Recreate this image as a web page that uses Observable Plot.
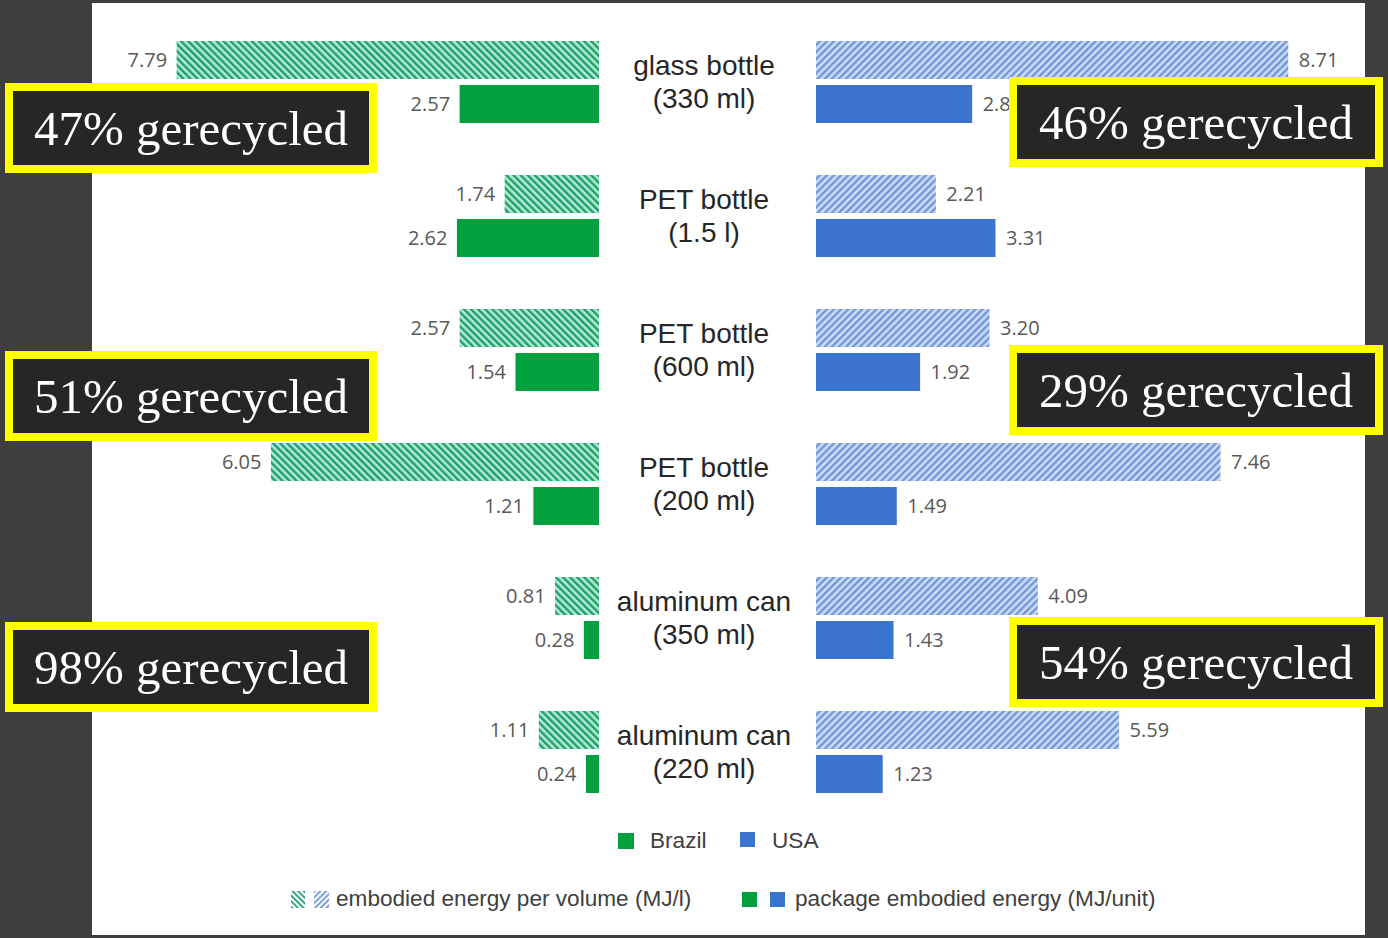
<!DOCTYPE html>
<html>
<head>
<meta charset="utf-8">
<script src="https://cdn.jsdelivr.net/npm/d3@7"></script>
<script src="https://cdn.jsdelivr.net/npm/@observablehq/plot@0.6"></script>
<style>
  html, body { margin: 0; padding: 0; }
  body { background: #3e3e3e; width: 1388px; height: 938px; overflow: hidden; position: relative; font-family: "Liberation Sans", Arial, sans-serif; }
  #panel { position: absolute; left: 92px; top: 3px; width: 1273px; height: 932px; background: #ffffff; }
  .plotwrap { position: absolute; top: 0; }
  .plotwrap svg { overflow: visible; }
  .box { position: absolute; box-sizing: border-box; border: 8px solid #ffff00; background: #262626; color: #ffffff;
         font-family: "Liberation Serif", "DejaVu Serif", serif; font-size: 49px; display: flex; align-items: center; justify-content: center; white-space: nowrap; }
  .leg { position: absolute; font-size: 22.6px; color: #404040; white-space: nowrap; line-height: 1; }
  .sw { position: absolute; }
</style>
</head>
<body>
<svg width="0" height="0" style="position:absolute">
  <defs>
    <pattern id="hatchGreen" patternUnits="userSpaceOnUse" width="5" height="5" patternTransform="rotate(-45)">
      <rect width="5" height="5" fill="#b3ebd2"></rect>
      <rect width="2.4" height="5" fill="#1d9f6c"></rect>
    </pattern>
    <pattern id="hatchBlue" patternUnits="userSpaceOnUse" width="5" height="5" patternTransform="rotate(45)">
      <rect width="5" height="5" fill="#cfdcf5"></rect>
      <rect width="2.4" height="5" fill="#6f96da"></rect>
    </pattern>
    <pattern id="hatchGreenIcon" patternUnits="userSpaceOnUse" width="4" height="4" patternTransform="rotate(-45)">
      <rect width="1.8" height="4" fill="#1d9f6c"></rect>
    </pattern>
    <pattern id="hatchBlueIcon" patternUnits="userSpaceOnUse" width="4" height="4" patternTransform="rotate(45)">
      <rect width="1.8" height="4" fill="#6f96da"></rect>
    </pattern>
  </defs>
</svg>
<div id="panel"></div>
<div id="left" class="plotwrap" style="left:111px"></div>
<div id="mid" class="plotwrap" style="left:599px"></div>
<div id="right" class="plotwrap" style="left:816px"></div>

<div class="sw" style="left:618px; top:833px; width:16px; height:16px; background:#00a03e"></div>
<div class="leg" style="left:650px; top:830px">Brazil</div>
<div class="sw" style="left:740px; top:832px; width:15px; height:15px; background:#3a74cc"></div>
<div class="leg" style="left:772px; top:830px">USA</div>

<svg class="sw" style="left:291px; top:891px" width="40" height="17">
  <rect x="0" y="0" width="14" height="17" fill="url(#hatchGreenIcon)"></rect>
  <rect x="23" y="0" width="15" height="17" fill="url(#hatchBlueIcon)"></rect>
</svg>
<div class="leg" style="left:336px; top:888px">embodied energy per volume (MJ/l)</div>
<div class="sw" style="left:742px; top:892px; width:15px; height:15px; background:#00a03e"></div>
<div class="sw" style="left:770px; top:892px; width:15px; height:15px; background:#3a74cc"></div>
<div class="leg" style="left:795px; top:888px">package embodied energy (MJ/unit)</div>

<div class="box" style="left:5px; top:83px; width:372px; height:90px">47% gerecycled</div>
<div class="box" style="left:5px; top:351px; width:372px; height:90px">51% gerecycled</div>
<div class="box" style="left:5px; top:622px; width:372px; height:90px">98% gerecycled</div>
<div class="box" style="left:1009px; top:77px; width:374px; height:90px">46% gerecycled</div>
<div class="box" style="left:1009px; top:345px; width:374px; height:90px">29% gerecycled</div>
<div class="box" style="left:1009px; top:617px; width:374px; height:90px">54% gerecycled</div>

<script>
// ---- data ----
const categories = ["glass bottle", "PET bottle 1.5", "PET bottle 600", "PET bottle 200", "aluminum can 350", "aluminum can 220"];
const categoryLabels = ["glass bottle\n(330 ml)", "PET bottle\n(1.5 l)", "PET bottle\n(600 ml)", "PET bottle\n(200 ml)", "aluminum can\n(350 ml)", "aluminum can\n(220 ml)"];
const brazilVolume = [7.79, 1.74, 2.57, 6.05, 0.81, 1.11];
const brazilPackage = [2.57, 2.62, 1.54, 1.21, 0.28, 0.24];
const usaVolume = [8.71, 2.21, 3.20, 7.46, 4.09, 5.59];
const usaPackage = [2.88, 3.31, 1.92, 1.49, 1.43, 1.23];
const measures = ["volume", "package"];

// ---- tables ----
function table(vol, pkg, hatch, solid) {
  const rows = [];
  categories.forEach((c, i) => {
    rows.push({category: c, measure: "volume", value: vol[i], fill: hatch});
    rows.push({category: c, measure: "package", value: pkg[i], fill: solid});
  });
  return rows;
}
const leftData = table(brazilVolume, brazilPackage, "url(#hatchGreen)", "#00a03e");
const rightData = table(usaVolume, usaPackage, "url(#hatchBlue)", "#3a74cc");
const midData = categories.map((c, i) => ({category: c, label: categoryLabels[i]}));

const H = 801, MT = 33;
const common = {
  height: H, marginTop: MT, marginBottom: 0, marginLeft: 0, marginRight: 0,
  fy: {domain: categories, paddingInner: 0.287, paddingOuter: 0, axis: null, label: null},
  y: {domain: measures, padding: 0.146, axis: null, label: null},
  color: {type: "identity"},
  style: {background: "transparent", overflow: "visible"}
};

function side(data, reverse) {
  return Plot.plot({
    ...common,
    width: 488,
    x: {domain: [0, 9], reverse, axis: null},
    facet: {data, y: "category"},
    marks: [
      Plot.barX(data, {x: "value", y: "measure", fill: "fill"}),
      Plot.text(data, {x: "value", y: "measure", text: d => d.value.toFixed(2),
        textAnchor: reverse ? "end" : "start", dx: reverse ? -10 : 10,
        fill: "#595959", fontSize: 20, fontFamily: "Open Sans, sans-serif"})
    ]
  });
}

document.getElementById("left").appendChild(side(leftData, true));
document.getElementById("right").appendChild(side(rightData, false));
document.getElementById("mid").appendChild(Plot.plot({
  ...common,
  width: 217,
  facet: {data: midData, y: "category"},
  marks: [
    Plot.text(midData, {frameAnchor: "middle", text: "label", dx: -4, dy: -2, fontSize: 28, lineHeight: 1.18,
      fill: "#262626", fontFamily: "Liberation Sans, Arial, sans-serif"})
  ]
}));
</script>
</body>
</html>
